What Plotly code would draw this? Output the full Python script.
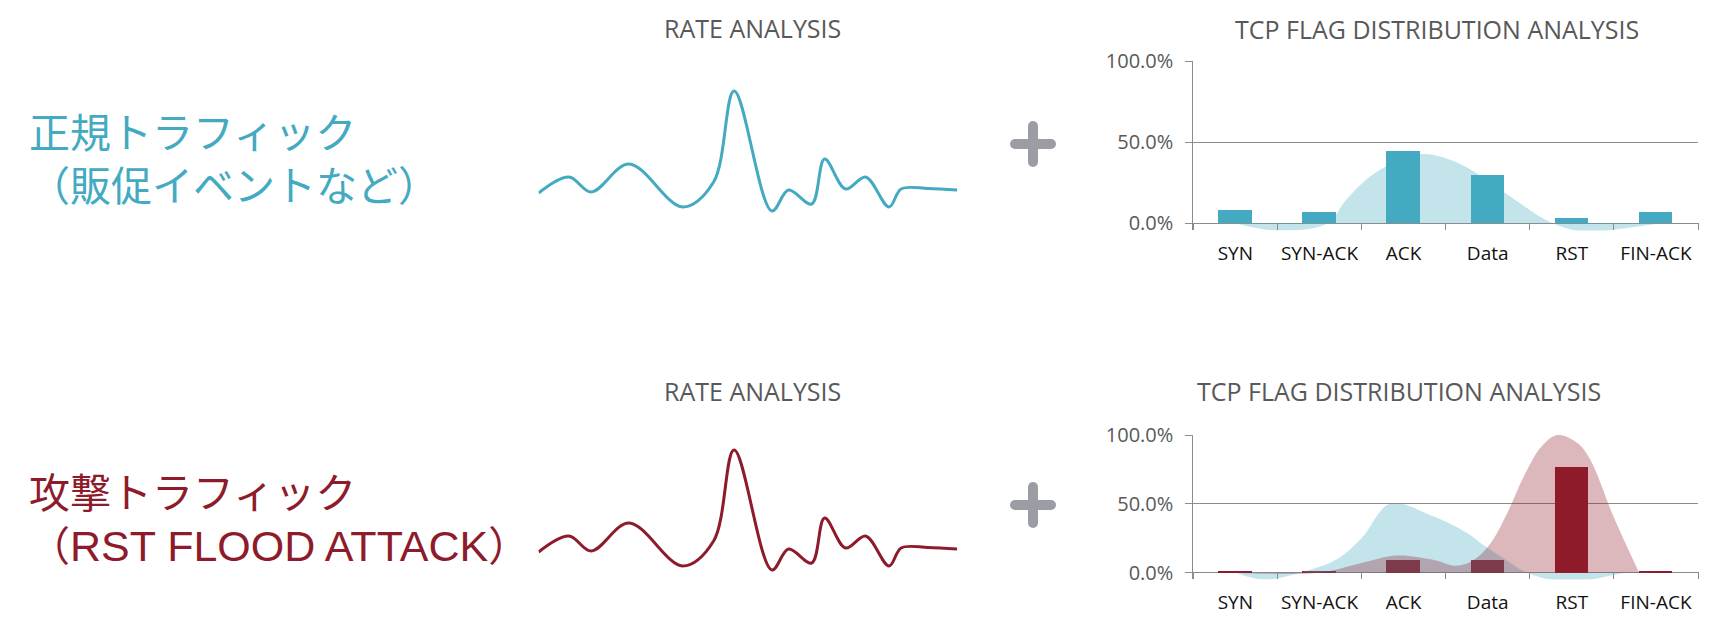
import plotly.graph_objects as go

W, H = 1721, 628

# ---------------- data ----------------
flags = ["SYN", "SYN-ACK", "ACK", "Data", "RST", "FIN-ACK"]
flag_pos = [0, 1, 2, 3, 4, 5]

normal_share = [8.2, 7.0, 44.6, 29.8, 3.3, 7.0]
attack_share = [1.0, 1.0, 9.5, 9.5, 77.0, 1.0]

# normal-traffic profile curve (top chart)
normal_curve_x = [0, 0.5, 1.1, 1.31, 1.66, 2.2, 2.56, 2.8, 3.2, 3.77, 4.22, 4.5, 5.0]
normal_curve_y = [0, -4.5, 0, 14, 31, 42.5, 39, 33, 19, 0, -5.7, -4, -0.5]

# normal-traffic profile curve (bottom chart)
normal2_curve_x = [0, 0.35, 0.77, 1.2, 1.5, 1.84, 2.35, 2.75, 2.95, 3.15, 3.47, 3.8, 4.15, 4.66, 5.0]
normal2_curve_y = [0, -5, 0, 9.5, 25, 50, 41, 29, 20, 12, 0, -5.5, -5.5, 0, 0]

# attack profile curve (bottom chart)
attack_curve_x = [0, 1.0, 1.5, 1.92, 2.35, 2.62, 2.83, 3.03, 3.23, 3.43, 3.63, 3.83, 4.07, 4.22, 4.5, 4.8]
attack_curve_y = [0, 0, 7, 12.4, 9.3, 5, 9, 21, 43, 70, 91, 100, 94, 82, 40, 0]

# rate analysis line (time 0..100, rate)
rate_t = [0, 7.2, 12.6, 21.6, 34.4, 41.8, 46.7, 55.7, 59.7, 65.2, 68.3, 73.3, 78.1, 83.7, 86.6, 93, 100]
rate_v = [27, 43, 28, 56, 13, 38, 129, 9, 30, 16, 61, 31, 43, 13, 31, 31.5, 30]

pct_ticks = [0, 50, 100]
pct_labels = ["0.0%", "50.0%", "100.0%"]
boundaries = [-0.5, 0.5, 1.5, 2.5, 3.5, 4.5, 5.5]

# ---------------- style ----------------
TEAL = "#43aac2"
RED = "#8e1b2b"
TEAL_FILL = "rgba(67,170,194,0.32)"
RED_FILL = "rgba(142,27,43,0.31)"
GRID = "#8c8c8c"
GRAYTXT = "#595959"
FONT = "Open Sans"


def fx(x):
    return x / W


def fy(y):
    return 1 - y / H


fig = go.Figure()

# top TCP chart
fig.add_trace(go.Scatter(x=normal_curve_x, y=normal_curve_y, mode="lines",
                         line=dict(width=0, shape="spline", smoothing=1.0),
                         fill="tozeroy", fillcolor=TEAL_FILL, hoverinfo="skip",
                         xaxis="x", yaxis="y", showlegend=False))
fig.add_trace(go.Bar(x=flag_pos, y=normal_share, width=0.4, marker_color=TEAL,
                     marker_line_width=0, xaxis="x", yaxis="y", showlegend=False))

# top rate line
fig.add_trace(go.Scatter(x=rate_t, y=rate_v, mode="lines",
                         line=dict(color=TEAL, width=3, shape="spline", smoothing=1.0),
                         xaxis="x2", yaxis="y2", showlegend=False))

# bottom TCP chart
fig.add_trace(go.Scatter(x=normal2_curve_x, y=normal2_curve_y, mode="lines",
                         line=dict(width=0, shape="spline", smoothing=1.0),
                         fill="tozeroy", fillcolor=TEAL_FILL, hoverinfo="skip",
                         xaxis="x3", yaxis="y3", showlegend=False))
fig.add_trace(go.Scatter(x=attack_curve_x, y=attack_curve_y, mode="lines",
                         line=dict(width=0, shape="spline", smoothing=1.0),
                         fill="tozeroy", fillcolor=RED_FILL, hoverinfo="skip",
                         xaxis="x3", yaxis="y3", showlegend=False))
fig.add_trace(go.Bar(x=flag_pos, y=attack_share, width=0.4, marker_color=RED,
                     marker_line_width=0, xaxis="x3", yaxis="y3", showlegend=False))

# bottom rate line
fig.add_trace(go.Scatter(x=rate_t, y=rate_v, mode="lines",
                         line=dict(color=RED, width=3, shape="spline", smoothing=1.0),
                         xaxis="x4", yaxis="y4", showlegend=False))


def cat_xaxis(anchor):
    return dict(domain=[fx(1193.3), fx(1698)], range=[-0.5, 5.5], anchor=anchor,
                tickmode="array", tickvals=flag_pos, ticktext=flags, ticks="",
                showgrid=False, zeroline=False, showline=False, automargin=False,
                fixedrange=True,
                tickfont=dict(family=FONT, size=19, color="#111111"),
                ticklabelstandoff=10,
                minor=dict(tickmode="array", tickvals=boundaries, ticks="inside",
                           ticklen=7, tickwidth=1, tickcolor=GRID, showgrid=False))


def pct_yaxis(anchor, top_px, bottom_px, ymin):
    return dict(domain=[fy(bottom_px), fy(top_px)], range=[ymin, 100], anchor=anchor,
                tickmode="array", tickvals=pct_ticks, ticktext=pct_labels,
                ticks="outside", ticklen=7, tickcolor=GRID, tickwidth=1,
                showgrid=True, gridcolor=GRID, gridwidth=1, zeroline=False,
                showline=True, linecolor=GRID, linewidth=1, automargin=False,
                fixedrange=True,
                tickfont=dict(family=FONT, size=20, color=GRAYTXT),
                ticklabelstandoff=8)


hidden = dict(visible=False, showgrid=False, zeroline=False, automargin=False,
              fixedrange=True)

fig.update_layout(
    width=W, height=H, autosize=False,
    margin=dict(l=0, r=0, t=0, b=0, pad=0, autoexpand=False),
    paper_bgcolor="white", plot_bgcolor="rgba(0,0,0,0)",
    bargap=0, showlegend=False,
    xaxis=cat_xaxis("y"),
    yaxis=pct_yaxis("x", 61, 230.4, -4.4),
    xaxis3=cat_xaxis("y3"),
    yaxis3=pct_yaxis("x3", 435, 579.4, -4.9),
    xaxis2=dict(domain=[fx(538.6), fx(957.3)], range=[0, 100], anchor="y2", **hidden),
    yaxis2=dict(domain=[fy(220), fy(80)], range=[0, 140], anchor="x2", **hidden),
    xaxis4=dict(domain=[fx(538.6), fx(957.3)], range=[0, 100], anchor="y4", **hidden),
    yaxis4=dict(domain=[fy(579), fy(439)], range=[0, 140], anchor="x4", **hidden),
)

# titles
titles = [
    ("RATE ANALYSIS", 752, 28),
    ("TCP FLAG DISTRIBUTION ANALYSIS", 1436.5, 29),
    ("RATE ANALYSIS", 752, 391),
    ("TCP FLAG DISTRIBUTION ANALYSIS", 1399, 391),
]
for text, x, y in titles:
    fig.add_annotation(text=text, x=fx(x), y=fy(y), xref="paper", yref="paper",
                       xanchor="center", yanchor="middle", showarrow=False,
                       font=dict(family=FONT, size=25, color=GRAYTXT))

# left labels (two lines each)
LATIN = "<span style='font-family:Liberation Sans;font-size:43px'>%s</span>"
left_labels = [
    ("正規トラフィック<br>（販促イベントなど）", 156.5, TEAL),
    ("攻撃トラフィック<br>（" + LATIN % "RST FLOOD ATTACK" + "）", 516.6, RED),
]
for text, y, col in left_labels:
    fig.add_annotation(text=text, x=fx(27), y=fy(y), xref="paper", yref="paper",
                       xanchor="left", yanchor="middle", align="left",
                       showarrow=False,
                       font=dict(family="Noto Sans CJK JP", size=41, color=col))

# plus signs
PLUS = "#9b9da4"
ARM = 18
R = 5
for cy in (144, 505):
    cx = 1033
    fig.add_shape(type="line", xref="paper", yref="paper",
                  x0=fx(cx - ARM), x1=fx(cx + ARM), y0=fy(cy), y1=fy(cy),
                  line=dict(color=PLUS, width=10))
    fig.add_shape(type="line", xref="paper", yref="paper",
                  x0=fx(cx), x1=fx(cx), y0=fy(cy - ARM), y1=fy(cy + ARM),
                  line=dict(color=PLUS, width=10))
    for ex, ey in ((cx - ARM, cy), (cx + ARM, cy), (cx, cy - ARM), (cx, cy + ARM)):
        fig.add_shape(type="circle", xref="paper", yref="paper",
                      x0=fx(ex - R), x1=fx(ex + R), y0=fy(ey + R), y1=fy(ey - R),
                      fillcolor=PLUS, line=dict(width=0))

fig.write_html("out.html", config={"displayModeBar": False, "responsive": False},
               post_script="document.body.style.margin='0';")
